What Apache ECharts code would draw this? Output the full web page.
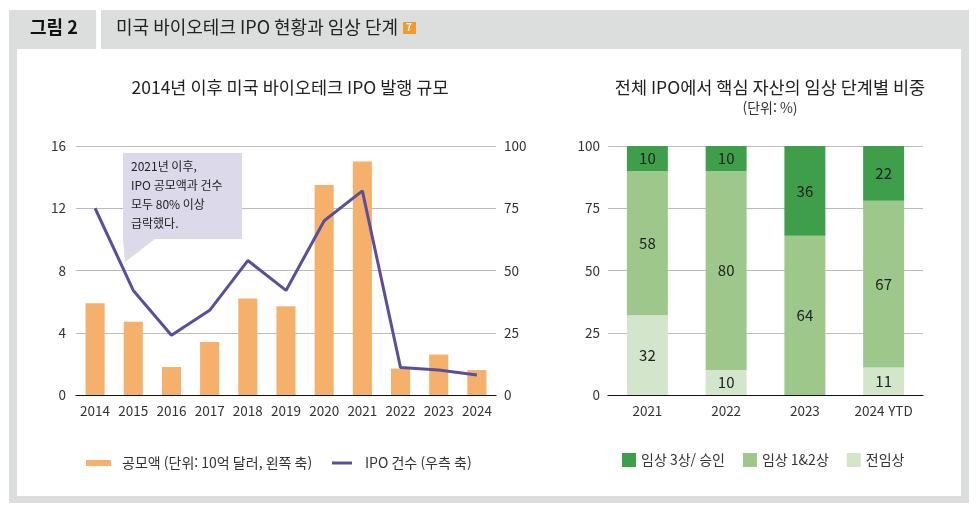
<!DOCTYPE html>
<html lang="ko">
<head>
    <meta charset="utf-8">
    <title>미국 바이오테크 IPO 현황과 임상 단계</title>
    <script src="https://cdn.jsdelivr.net/npm/echarts@6.0.0/dist/echarts.min.js"></script>
    <style>
        html, body { margin: 0; padding: 0; background: #fff; }
        #main { width: 978px; height: 516px; }
    </style>
</head>
<body>
<div id="main"></div>
<script type="text/javascript">
    // 왼쪽 차트: 미국 바이오테크 IPO 발행 규모
    var years = ['2014', '2015', '2016', '2017', '2018', '2019', '2020', '2021', '2022', '2023', '2024'];
    var ipoAmount = [5.9, 4.7, 1.8, 3.4, 6.2, 5.7, 13.5, 15.0, 1.7, 2.6, 1.6];   // 10억 달러
    var ipoCount = [75, 42, 24, 34, 54, 42, 70, 82, 11, 10, 8];                 // 건
    var leftTicks = [0, 4, 8, 12, 16];
    var rightTicks = [0, 25, 50, 75, 100];

    // 오른쪽 차트: 핵심 자산의 임상 단계별 비중 (%)
    var stageYears = ['2021', '2022', '2023', '2024 YTD'];
    var phase3 = [10, 10, 36, 22];
    var phase12 = [58, 80, 64, 67];
    var preclinical = [32, 10, 0, 11];
    var shareTicks = [0, 25, 50, 75, 100];

    var FONT = '"Noto Sans CJK KR", "Noto Sans", sans-serif';
    var myChart = echarts.init(document.getElementById('main'));

    function stackLabel(p) {
        return p.value ? String(p.value) : '';
    }

    var labelStyle = {show: true, position: 'inside', color: '#222', fontSize: 15, fontFamily: FONT, formatter: stackLabel};

    var option = {
        backgroundColor: '#fff',
        textStyle: {fontFamily: FONT},
        animation: false,
        title: [
            {
                text: '2014년 이후 미국 바이오테크 IPO 발행 규모',
                left: 285, top: 74, textAlign: 'center',
                textStyle: {fontSize: 17.5, fontWeight: 'normal', color: '#222', fontFamily: FONT}
            },
            {
                text: '전체 IPO에서 핵심 자산의 임상 단계별 비중',
                subtext: '(단위: %)',
                left: 765, top: 74, textAlign: 'center', itemGap: 4,
                textStyle: {fontSize: 17.5, fontWeight: 'normal', color: '#222', fontFamily: FONT},
                subtextStyle: {fontSize: 14, color: '#333', fontFamily: FONT}
            }
        ],
        legend: [
            {
                left: 86, top: 456, padding: 0,
                itemWidth: 25, itemHeight: 6,
                textStyle: {fontSize: 14, color: '#333', fontFamily: FONT, padding: [0, 0, 0, 6]},
                data: [{name: '공모액 (단위: 10억 달러, 왼쪽 축)', icon: 'rect'}]
            },
            {
                left: 332, top: 456, padding: 0,
                itemWidth: 20, itemHeight: 3,
                textStyle: {fontSize: 14, color: '#333', fontFamily: FONT, padding: [0, 0, 0, 8]},
                data: [{name: 'IPO 건수 (우측 축)', icon: 'rect'}]
            },
            {
                left: 622, top: 453, padding: 0,
                itemWidth: 14, itemHeight: 14, itemGap: 18,
                textStyle: {fontSize: 14, color: '#333', fontFamily: FONT},
                data: [
                    {name: '임상 3상/ 승인', icon: 'rect'},
                    {name: '임상 1&2상', icon: 'rect'},
                    {name: '전임상', icon: 'rect'}
                ]
            }
        ],
        grid: [
            {left: 76, right: 482, top: 146, bottom: 121},
            {left: 608, right: 55, top: 146, bottom: 121}
        ],
        xAxis: [
            {
                type: 'category', gridIndex: 0, data: years,
                axisLine: {lineStyle: {color: '#111', width: 1.2}},
                axisTick: {show: false},
                axisLabel: {color: '#333', fontSize: 13.5, margin: 9, interval: 0}
            },
            {
                type: 'category', gridIndex: 1, data: stageYears,
                axisLine: {lineStyle: {color: '#111', width: 1.2}},
                axisTick: {show: false},
                axisLabel: {color: '#333', fontSize: 13.5, margin: 9}
            }
        ],
        yAxis: [
            {
                type: 'value', gridIndex: 0, min: leftTicks[0], max: leftTicks[leftTicks.length - 1], interval: 4,
                axisLine: {show: false}, axisTick: {show: false},
                axisLabel: {color: '#333', fontSize: 13.5, margin: 10},
                splitLine: {lineStyle: {color: '#bbb'}}
            },
            {
                type: 'value', gridIndex: 0, position: 'right',
                min: rightTicks[0], max: rightTicks[rightTicks.length - 1], interval: 25,
                axisLine: {show: false}, axisTick: {show: false},
                axisLabel: {color: '#333', fontSize: 13.5, margin: 8},
                splitLine: {show: false}
            },
            {
                type: 'value', gridIndex: 1, min: shareTicks[0], max: shareTicks[shareTicks.length - 1], interval: 25,
                axisLine: {show: false}, axisTick: {show: false},
                axisLabel: {color: '#333', fontSize: 13.5, margin: 8},
                splitLine: {lineStyle: {color: '#bbb'}}
            }
        ],
        series: [
            {
                name: '공모액 (단위: 10억 달러, 왼쪽 축)', type: 'bar',
                xAxisIndex: 0, yAxisIndex: 0,
                barWidth: '50%',
                itemStyle: {color: '#f5b06b'},
                data: ipoAmount
            },
            {
                name: 'IPO 건수 (우측 축)', type: 'line',
                xAxisIndex: 0, yAxisIndex: 1,
                symbol: 'none',
                lineStyle: {color: '#5b4f9b', width: 3},
                itemStyle: {color: '#5b4f9b'},
                data: ipoCount
            },
            {
                name: '전임상', type: 'bar', stack: 'stage',
                xAxisIndex: 1, yAxisIndex: 2, barWidth: '52%',
                itemStyle: {color: '#d3e6cb'},
                label: labelStyle,
                data: preclinical
            },
            {
                name: '임상 1&2상', type: 'bar', stack: 'stage',
                xAxisIndex: 1, yAxisIndex: 2, barWidth: '52%',
                itemStyle: {color: '#9dc78b'},
                label: labelStyle,
                data: phase12
            },
            {
                name: '임상 3상/ 승인', type: 'bar', stack: 'stage',
                xAxisIndex: 1, yAxisIndex: 2, barWidth: '52%',
                itemStyle: {color: '#3e9e4a'},
                label: labelStyle,
                data: phase3
            }
        ],
        graphic: [
            // 바깥 테두리와 머리글
            {type: 'rect', z: -10, silent: true, shape: {x: 9, y: 10, width: 960, height: 493}, style: {fill: '#dcdddd'}},
            {type: 'rect', z: -9, silent: true, shape: {x: 17, y: 49, width: 944, height: 447}, style: {fill: '#fff'}},
            {type: 'rect', z: -9, silent: true, shape: {x: 96, y: 10, width: 5, height: 40}, style: {fill: '#fff'}},
            {
                type: 'text', left: 30, top: 18, silent: true,
                style: {text: '그림 2', fontSize: 18, fontWeight: 'bold', fill: '#111', fontFamily: FONT}
            },
            {
                type: 'text', left: 116, top: 18, silent: true,
                style: {text: '미국 바이오테크 IPO 현황과 임상 단계', fontSize: 18, fill: '#222', fontFamily: FONT}
            },
            {type: 'rect', silent: true, shape: {x: 403, y: 22, width: 13, height: 12}, style: {fill: '#f39a2c'}},
            {
                type: 'text', left: 406, top: 22, silent: true,
                style: {text: '7', fontSize: 10, fontWeight: 'bold', fill: '#fff', fontFamily: FONT}
            },
            // 말풍선 주석
            {
                type: 'polygon', silent: true, z: 5,
                shape: {points: [[123, 153], [242, 153], [242, 239], [155, 239], [125, 262], [123, 239]]},
                style: {fill: '#dcd9eb'}
            },
            {
                type: 'text', left: 131, top: 157, silent: true, z: 6,
                style: {
                    text: '2021년 이후,\nIPO 공모액과 건수\n모두 80% 이상\n급락했다.',
                    fontSize: 12, lineHeight: 19, fill: '#222', fontFamily: FONT
                }
            }
        ]
    };

    myChart.setOption(option);
</script>
</body>
</html>
